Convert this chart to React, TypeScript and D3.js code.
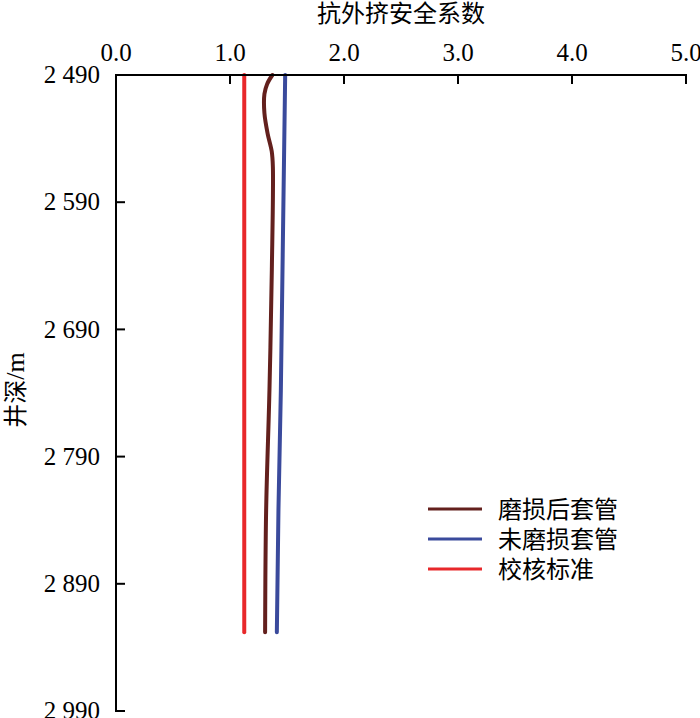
import React from "react";
import * as d3 from "d3";

const xTicks = [0, 1, 2, 3, 4, 5];
const yTicks = [2490, 2590, 2690, 2790, 2890, 2990];

const wornDepth = [2490, 2497, 2505, 2520, 2536, 2550, 2562, 2643, 2738, 2832, 2928];
const wornValue = [1.372, 1.326, 1.302, 1.302, 1.33, 1.366, 1.376, 1.367, 1.346, 1.317, 1.308];

const newDepth = [2490, 2738, 2832, 2928];
const newValue = [1.484, 1.446, 1.425, 1.411];

const stdDepth = [2490, 2928];
const stdValue = [1.125, 1.125];

const seriesNames = ["磨损后套管", "未磨损套管", "校核标准"];
const seriesColors = ["#63201d", "#3a4a9c", "#e8282b"];

const xTitle = "抗外挤安全系数";
const yTitle = "井深/m";

const CJK = "'Noto Sans CJK SC', 'Noto Sans', sans-serif";
const SERIF = "'Liberation Serif', 'DejaVu Serif', serif";

export default function App() {
  const x = d3.scaleLinear().domain([0, 5]).range([116, 686]);
  const y = d3.scaleLinear().domain([2490, 2990]).range([75, 711]);

  const mk = (vals: number[], deps: number[], curve: d3.CurveFactory) =>
    d3
      .line<number>()
      .x((_, i) => x(vals[i]))
      .y((_, i) => y(deps[i]))
      .curve(curve)(vals) || "";

  const series = [
    { d: mk(wornValue, wornDepth, d3.curveCatmullRom.alpha(0.5)), color: seriesColors[0] },
    { d: mk(newValue, newDepth, d3.curveLinear), color: seriesColors[1] },
    { d: mk(stdValue, stdDepth, d3.curveLinear), color: seriesColors[2] },
  ];

  const fmtY = (v: number) => {
    const s = String(v);
    return s.slice(0, s.length - 3) + " " + s.slice(s.length - 3);
  };

  const [x0, x1] = x.range();
  const [y0, y1] = y.range();

  return (
    <svg
      width={700}
      height={718}
      style={{ position: "absolute", left: 0, top: 0, background: "#fff" }}
    >
      {series.map((s, i) => (
        <path
          key={i}
          d={s.d}
          fill="none"
          stroke={s.color}
          strokeWidth={4}
          strokeLinecap="round"
          strokeLinejoin="round"
        />
      ))}

      <line x1={x0} x2={x1} y1={y0} y2={y0} stroke="#000" strokeWidth={2} strokeLinecap="square" />
      <line x1={x0} x2={x0} y1={y0} y2={y1} stroke="#000" strokeWidth={2} strokeLinecap="square" />

      {xTicks.map((t) => (
        <g key={"x" + t}>
          <line x1={x(t)} x2={x(t)} y1={y0} y2={y0 + 9} stroke="#000" strokeWidth={2} />
          <text
            x={x(t)}
            y={61}
            textAnchor="middle"
            fontFamily={SERIF}
            fontSize={25}
            fill="#000"
          >
            {t.toFixed(1)}
          </text>
        </g>
      ))}

      {yTicks.map((t) => (
        <g key={"y" + t}>
          <line x1={x0} x2={x0 + 9} y1={y(t)} y2={y(t)} stroke="#000" strokeWidth={2} />
          <text
            x={100}
            y={y(t)}
            dy="0.33em"
            textAnchor="end"
            fontFamily={SERIF}
            fontSize={25}
            fill="#000"
          >
            {fmtY(t)}
          </text>
        </g>
      ))}

      <text
        x={(x0 + x1) / 2}
        y={22}
        textAnchor="middle"
        fontFamily={CJK}
        fontSize={24}
        fill="#000"
      >
        {xTitle}
      </text>
      <text
        transform={`translate(24, 390) rotate(-90)`}
        textAnchor="middle"
        fontFamily={CJK}
        fontSize={24}
        fill="#000"
      >
        {yTitle.slice(0, 2)}
        <tspan fontFamily={SERIF} fontSize={26}>{yTitle.slice(2)}</tspan>
      </text>

      {seriesNames.map((n, i) => (
        <g key={n} transform={`translate(428, ${509 + i * 30})`}>
          <line x1={0} x2={54} y1={0} y2={0} stroke={seriesColors[i]} strokeWidth={3} />
          <text x={70} y={0} dy="0.36em" fontFamily={CJK} fontSize={24} fill="#000">
            {n}
          </text>
        </g>
      ))}
    </svg>
  );
}
